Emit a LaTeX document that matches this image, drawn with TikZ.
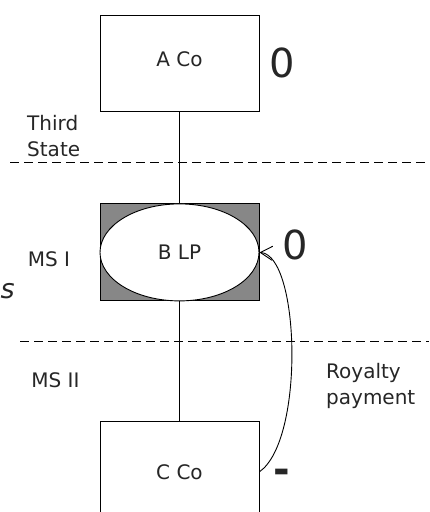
\documentclass[tikz,border=0pt]{standalone}
\usepackage{fontspec}
\setmainfont{DejaVu Sans}
\usetikzlibrary{positioning,shapes.geometric,arrows.meta}

\definecolor{boxgray}{gray}{0.53}
\definecolor{inkgray}{gray}{0.15}

\begin{document}
\begin{tikzpicture}[x=1pt, y=-1pt,
    font=\fontsize{20}{26}\selectfont,
    text=inkgray,
    company/.style={draw, line width=0.9pt, minimum width=159pt,
                    minimum height=96pt, inner sep=0pt},
    partner/.style={ellipse, draw, fill=white, line width=0.9pt,
                    minimum width=159pt, minimum height=97pt, inner sep=0pt},
    bigmark/.style={font=\fontsize{40}{40}\selectfont, inner sep=0pt},
    border/.style={dash pattern=on 9pt off 5pt, line width=0.8pt}]
   \useasboundingbox (0,0) rectangle (429,512);
   % the three entities
   \node[company] (aco) at (179.5,63) {\raisebox{8pt}{A Co}};
   \node[company,
         minimum height=97pt,
         fill=boxgray,
         below=92pt of aco] (bbox) {};
   \node[partner] (blp) at (bbox.center) {B LP};
   \node[company,
         minimum height=100pt,
         below=120pt of bbox] (cco) {C Co};
   \draw[line width=0.9pt] (aco) -- (bbox);
   \draw[line width=0.9pt] (bbox) -- (cco);
   % state borders
   \draw[border] (10,162) -- (429,162);
   \draw[border] (20,341) -- (429,341);
   \node[anchor=north west, align=left, inner sep=0pt] (third) at (27,115) {Third\\State};
   \node (ms1) at (49,259) {MS I};
   \node (ms2) at (55.5,380) {MS II};
   \node[font=\fontsize{27}{27}\selectfont\itshape,
         anchor=base west, inner sep=0.5pt] (cut) at (0,298) {s};
   % tax marks
   \node[bigmark, right=10pt of aco] (amark) {0};
   \node[bigmark] (bmark) at (295,245) {0};
   \node[bigmark, font=\fontsize{40}{40}\selectfont\bfseries,
         anchor=base] (cmark) at (282,483) {-};
   % royalty flow
   \draw[line width=0.9pt, -{Straight Barb[length=12pt,width=14pt]}]
       (cco.east) .. controls (305,440) and (300,255) .. (blp.east);
   \node[anchor=north west, align=left, inner sep=0pt] (roy) at (326,363) {Royalty\\payment};
\end{tikzpicture}
\end{document}
